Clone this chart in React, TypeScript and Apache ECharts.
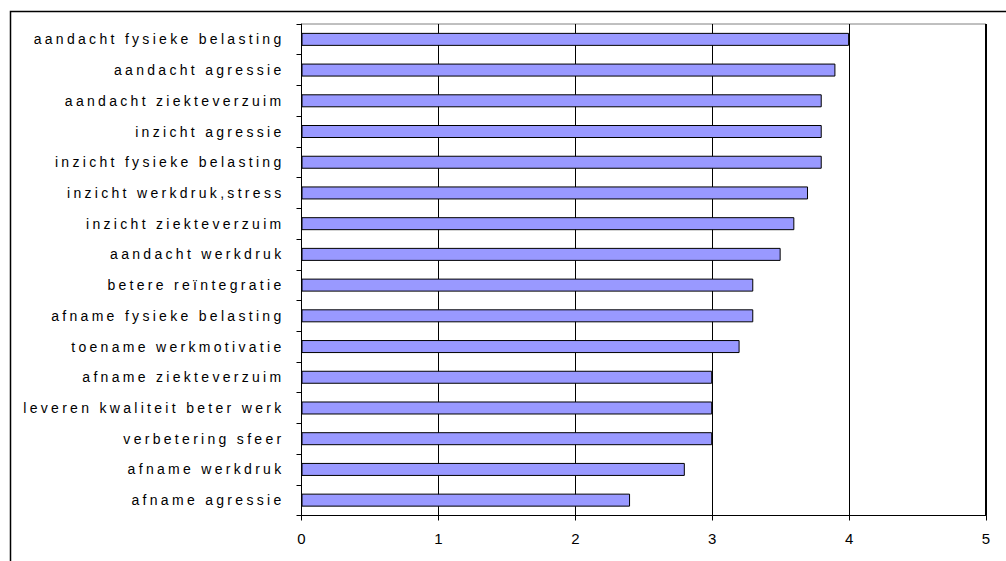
import React, { useEffect, useRef } from "react";
import * as echarts from "echarts";

const categories = [
  "aandacht fysieke belasting",
  "aandacht agressie",
  "aandacht ziekteverzuim",
  "inzicht agressie",
  "inzicht fysieke belasting",
  "inzicht werkdruk,stress",
  "inzicht ziekteverzuim",
  "aandacht werkdruk",
  "betere reïntegratie",
  "afname fysieke belasting",
  "toename werkmotivatie",
  "afname ziekteverzuim",
  "leveren kwaliteit beter werk",
  "verbetering sfeer",
  "afname werkdruk",
  "afname agressie",
];

const values = [4.0, 3.9, 3.8, 3.8, 3.8, 3.7, 3.6, 3.5, 3.3, 3.3, 3.2, 3.0, 3.0, 3.0, 2.8, 2.4];

const xMin = 0;
const xMax = 5;
const xStep = 1;

const FONT = "'Liberation Sans', Arial, sans-serif";

export default function App() {
  const ref = useRef<HTMLDivElement>(null);
  useEffect(() => {
    if (!ref.current) return;
    const chart = echarts.init(ref.current, null, { renderer: "svg" });
    chart.setOption({
      animation: false,
      backgroundColor: "#ffffff",
      grid: {
        left: 301.5,
        right: 20,
        top: 24,
        bottom: 45.5,
        show: true,
        borderColor: "#808080",
        borderWidth: 1,
        backgroundColor: "#ffffff",
      },
      xAxis: {
        type: "value",
        min: xMin,
        max: xMax,
        interval: xStep,
        axisLine: { show: true, lineStyle: { color: "#000", width: 1 } },
        axisTick: { show: true, length: 5, lineStyle: { color: "#000" } },
        axisLabel: {
          margin: 15,
          color: "#000",
          fontSize: 15,
          fontFamily: FONT,
        },
        splitLine: { show: true, lineStyle: { color: "#000", width: 1 } },
      },
      yAxis: {
        type: "category",
        data: categories,
        inverse: true,
        axisLine: { show: true, lineStyle: { color: "#000", width: 1 } },
        axisTick: { show: true, length: 5, lineStyle: { color: "#000" } },
        axisLabel: {
          margin: 17,
          color: "#000",
          fontSize: 14,
          fontFamily: FONT,
        },
        splitLine: { show: false },
      },
      graphic: [
        {
          type: "rect",
          shape: { x: 10.5, y: 11.5, width: 1100, height: 700 },
          style: { fill: "none", stroke: "#000", lineWidth: 1.5 },
          silent: true,
          z: 100,
        },
        {
          type: "line",
          shape: { x1: 986, y1: 24, x2: 986, y2: 515.5 },
          style: { stroke: "#000", lineWidth: 2 },
          silent: true,
          z: 100,
        },
      ],
      series: [
        {
          type: "bar",
          data: values,
          barWidth: 13,
          itemStyle: { color: "#9999ff", borderColor: "#000", borderWidth: 1 },
          emphasis: { disabled: true },
        },
      ],
    });
    return () => chart.dispose();
  }, []);
  return (
    <>
      <style>{`body{margin:0;} #chartbox text[text-anchor="end"]{letter-spacing:3.3px;}`}</style>
      <div
        id="chartbox"
        ref={ref}
        style={{ position: "absolute", left: 0, top: 0, width: 1006, height: 561, background: "#fff" }}
      />
    </>
  );
}
